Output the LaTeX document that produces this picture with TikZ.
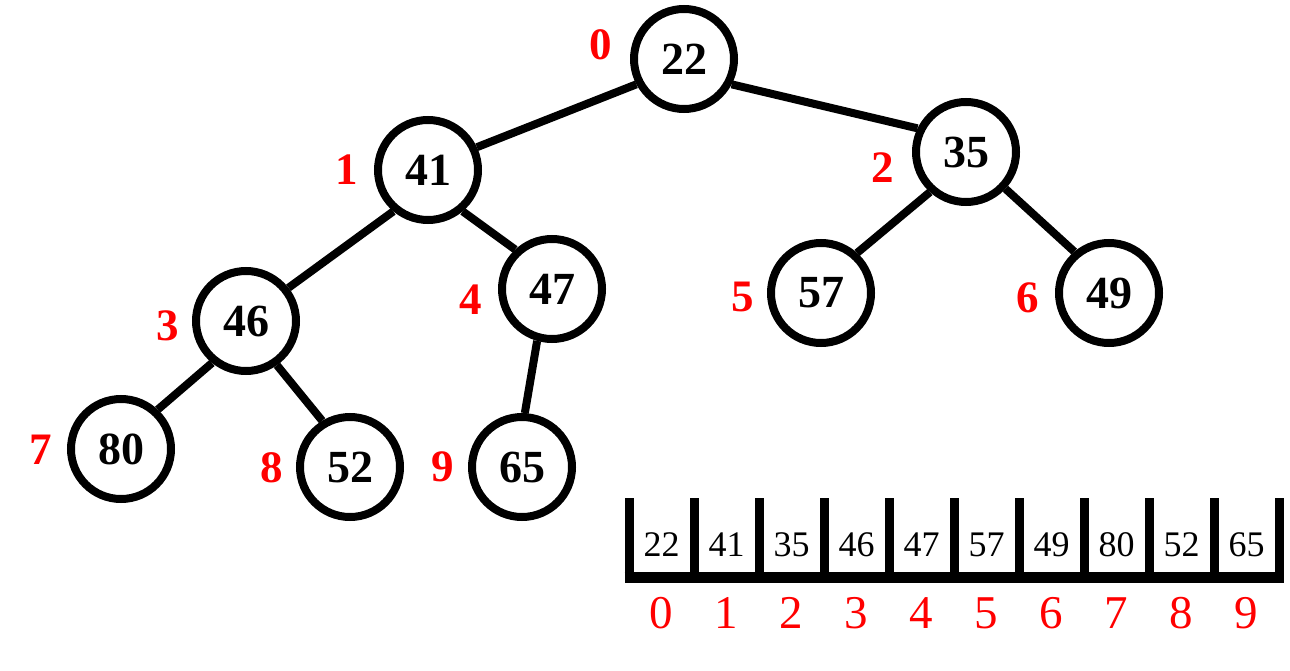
\documentclass[tikz,border=0pt]{standalone}
\usepackage{fontspec}
\setmainfont{Liberation Serif}
\begin{document}
\begin{tikzpicture}[x=1pt,y=-1pt,
  hnode/.style={circle,draw=black,line width=8pt,minimum size=100pt,inner sep=0pt,font=\fontsize{46}{46}\selectfont\bfseries},
  idx/.style={text=red,font=\fontsize{45}{45}\selectfont\bfseries,inner sep=0pt},
  edge/.style={line width=8pt},
  bar/.style={line width=9pt},
  cell/.style={font=\fontsize{36}{36}\selectfont,inner sep=0pt},
  aidx/.style={text=red,font=\fontsize{47}{47}\selectfont,inner sep=0pt}]
\useasboundingbox (0,0) rectangle (1290,671);
\node[hnode] (n0) at (684,59) {22};
\node[hnode] (n1) at (428,170) {41};
\node[hnode] (n2) at (966,152) {35};
\node[hnode] (n3) at (246,321) {46};
\node[hnode] (n4) at (552,289) {47};
\node[hnode] (n5) at (821,293) {57};
\node[hnode] (n6) at (1109,293) {49};
\node[hnode] (n7) at (121,449) {80};
\node[hnode] (n8) at (350,467) {52};
\node[hnode] (n9) at (522,467) {65};
\node[idx] (l0) at (601,45) {0};
\node[idx] (l1) at (347,170) {1};
\node[idx] (l2) at (883,168) {2};
\node[idx] (l3) at (168,326) {3};
\node[idx] (l4) at (471,300) {4};
\node[idx] (l5) at (743,297) {5};
\node[idx] (l6) at (1028,298) {6};
\node[idx] (l7) at (41,450) {7};
\node[idx] (l8) at (272,468) {8};
\node[idx] (l9) at (443,467) {9};
\draw[edge] (n0.208) -- (n1.25);
\draw[edge] (n0.332) -- (n2.154);
\draw[edge] (n1.230) -- (n3.38);
\draw[edge] (n1.310) -- (n4.133);
\draw[edge] (n2.228) -- (n5.48);
\draw[edge] (n2.317) -- (n6.130);
\draw[edge] (n3.231) -- (n7.47);
\draw[edge] (n3.305) -- (n8.121);
\draw[edge] (n4.254) -- (n9.87);
% array
\coordinate (bl) at (624.5,577);
\coordinate (br) at (1283.5,577);
\draw[line width=11pt] (bl) -- (br);
\foreach \k in {0,...,10} {
  \draw[bar] (629+65*\k,498) -- (629+65*\k,577);
}
\foreach \v [count=\k from 0] in {22,41,35,46,47,57,49,80,52,65} {
  \node[cell] (c\k) at (661.5+65*\k,545) {\v};
  \node[aidx] (a\k) at (661.5+65*\k,613) {\k};
}
\end{tikzpicture}
\end{document}
